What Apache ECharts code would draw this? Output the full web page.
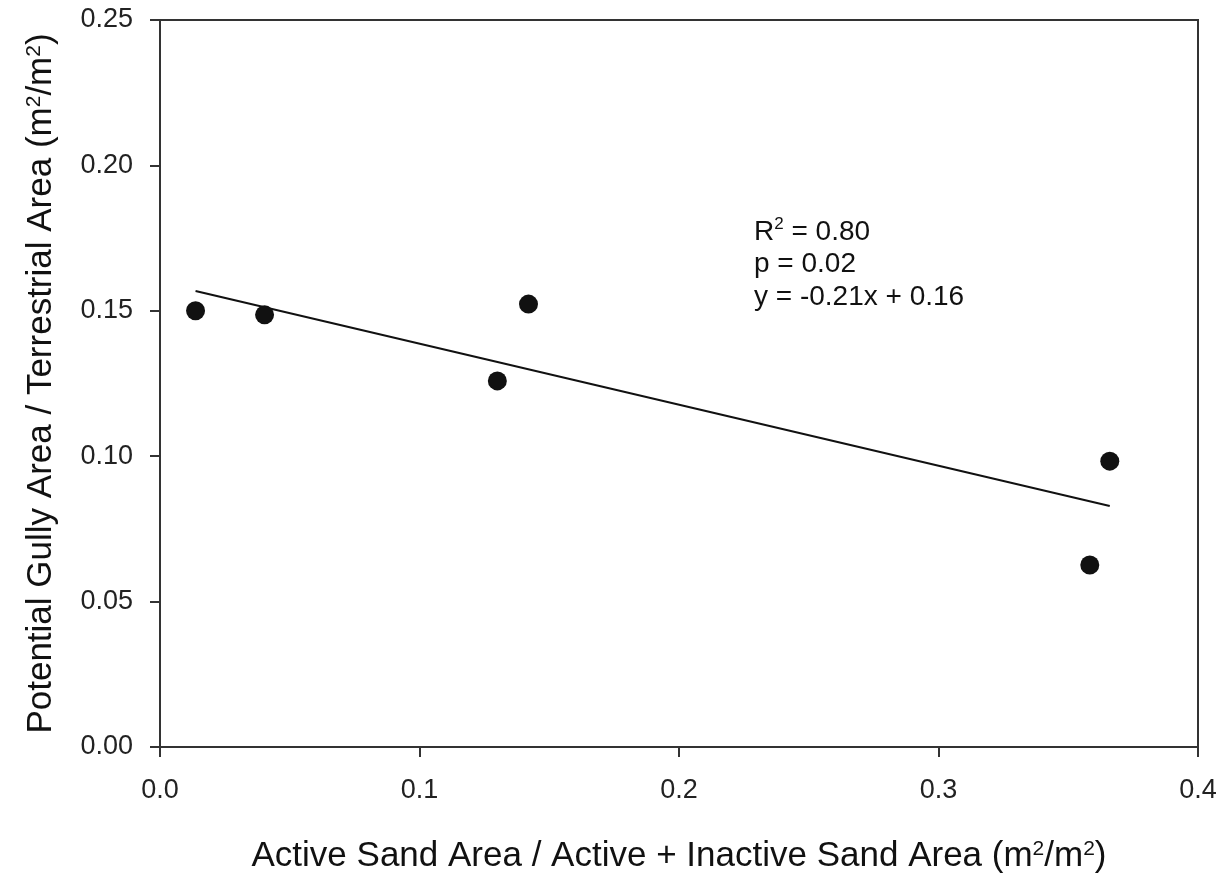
<!DOCTYPE html>
<html><head><meta charset="utf-8">
<script src="https://cdn.jsdelivr.net/npm/echarts@6/dist/echarts.min.js"></script>
<style>html,body{margin:0;padding:0;background:#fff}#c{width:1222px;height:875px}</style>
</head><body><div id="c"></div>
<script>
var pointsX = [0.0137, 0.0403, 0.130, 0.142, 0.3583, 0.366];
var pointsY = [0.150, 0.1486, 0.1259, 0.1523, 0.0626, 0.0983];
var fitX = [0.0137, 0.366];
var fitY = [0.1568, 0.0829];
var xTicks = ['0.0', '0.1', '0.2', '0.3', '0.4'];
var yTicks = ['0.00', '0.05', '0.10', '0.15', '0.20', '0.25'];
var annotation = ['R{sup|2} = 0.80', 'p = 0.02', 'y = -0.21x + 0.16'];

var F = '"Liberation Sans", Arial, sans-serif';
var chart = echarts.init(document.getElementById('c'));
var sup = {fontSize: 21, verticalAlign: 'top', padding: [0, 0, 14, 0], fontFamily: F, color: '#111'};
chart.setOption({
  animation: false,
  grid: {left: 160, right: 24, top: 20, bottom: 128, outerBoundsMode: 'none', containLabel: false,
    show: true, borderColor: '#333', borderWidth: 2, backgroundColor: '#fff'},
  xAxis: {
    type: 'value', min: 0, max: 0.4, interval: 0.1,
    axisLine: {show: true, lineStyle: {color: '#333', width: 2}},
    axisTick: {show: true, length: 10, lineStyle: {color: '#333', width: 2}},
    splitLine: {show: false},
    axisLabel: {margin: 30, fontSize: 27, color: '#222', fontFamily: F,
      formatter: function (v) { return xTicks[Math.round(v * 10)]; }},
    name: 'Active Sand Area / Active + Inactive Sand Area (m{sup|2}/m{sup|2})',
    nameLocation: 'middle', nameGap: 92,
    nameTextStyle: {fontSize: 35, color: '#111', fontFamily: F, rich: {sup: sup}}
  },
  yAxis: {
    type: 'value', min: 0, max: 0.25, interval: 0.05,
    axisLine: {show: true, lineStyle: {color: '#333', width: 2}},
    axisTick: {show: true, length: 10, lineStyle: {color: '#333', width: 2}},
    splitLine: {show: false},
    axisLabel: {margin: 27, fontSize: 27, color: '#222', fontFamily: F,
      formatter: function (v) { return yTicks[Math.round(v * 20)]; }},
    name: 'Potential Gully Area / Terrestrial Area (m{sup|2}/m{sup|2})',
    nameLocation: 'middle', nameGap: 101, nameRotate: 90,
    nameTextStyle: {fontSize: 35, color: '#111', fontFamily: F, rich: {sup: sup}}
  },
  series: [
    {type: 'line', data: fitX.map(function (x, i) { return [x, fitY[i]]; }),
      symbol: 'none', lineStyle: {color: '#111', width: 2}, z: 2},
    {type: 'scatter', data: pointsX.map(function (x, i) { return [x, pointsY[i]]; }),
      symbolSize: 19, itemStyle: {color: '#111', opacity: 1}, z: 3}
  ],
  graphic: [{
    type: 'text', left: 754, top: 216,
    style: {text: annotation.join('\n'), fontSize: 28, lineHeight: 32.5, fill: '#111', fontFamily: F,
      rich: {sup: {fontSize: 17, verticalAlign: 'top', padding: [0, 0, 12, 0], fontFamily: F, fill: '#111'}}}
  }]
});
</script></body></html>
